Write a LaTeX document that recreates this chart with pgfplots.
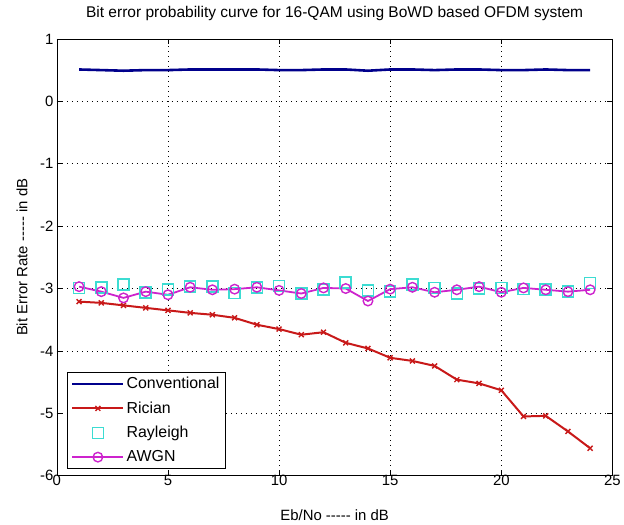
\documentclass[border=0pt]{standalone}
\usepackage{fontspec}
\setmainfont{Liberation Sans}[Ligatures=TeXOff]
\usepackage{pgfplots}
\pgfplotsset{compat=1.18}
\definecolor{conv}{RGB}{0,0,140}
\definecolor{ric}{RGB}{200,25,25}
\definecolor{ray}{RGB}{60,220,210}
\definecolor{awgn}{RGB}{205,35,205}
\pgfplotsset{myleg/.style={legend image code/.code={\draw[mark repeat=2,mark phase=2,##1] plot coordinates {(0bp,0bp) (25.5bp,0bp) (51bp,0bp)};}}}
\begin{document}
\begin{tikzpicture}
\begin{axis}[
  scale only axis, width=557bp, height=438bp,
  xmin=0, xmax=25, ymin=-6, ymax=1,
  xtick={0,5,10,15,20,25}, ytick={-6,-5,-4,-3,-2,-1,0,1},
  grid=major,
  grid style={black, dash pattern=on 1bp off 4bp, line width=0.7bp},
  tick align=inside, major tick length=5bp,
  every tick/.style={black, line width=0.7bp},
  axis line style={black, line width=0.7bp},
  tick label style={font=\fontsize{15}{17}\selectfont},
  xticklabel style={yshift=4bp},
  /pgf/number format/assume math mode=true,
  title={Bit error probability curve for 16-QAM using BoWD based OFDM system},
  title style={font=\fontsize{15.6}{17}\selectfont, at={(axis description cs:0.5,1)}, anchor=center, yshift=19bp},
  xlabel={Eb/No ----- in dB},
  xlabel style={font=\fontsize{15}{17}\selectfont, at={(axis description cs:0.5,0)}, anchor=center, yshift=-40bp},
  ylabel={Bit Error Rate ----- in dB},
  ylabel style={font=\fontsize{15}{17}\selectfont, at={(axis description cs:0,0.5)}, anchor=center, yshift=35bp},
  legend cell align=left,
  legend style={at={(0,0)}, anchor=south west, xshift=10bp, yshift=7bp,
    font=\fontsize{16}{18}\selectfont, draw=black, line width=0.7bp,
    inner xsep=4bp, inner ysep=3bp, row sep=7.5bp,
    nodes={inner sep=2bp}},
]
\addplot[myleg, conv, line width=2.6bp, no marks] coordinates {
(1,0.51)(2,0.50)(3,0.49)(4,0.50)(5,0.50)(6,0.51)(7,0.51)(8,0.51)(9,0.51)(10,0.50)(11,0.50)(12,0.51)
(13,0.51)(14,0.49)(15,0.51)(16,0.51)(17,0.50)(18,0.51)(19,0.51)(20,0.50)(21,0.50)(22,0.51)(23,0.50)(24,0.50)};
\addlegendentry{Conventional}
\addplot[myleg, ric, line width=2bp, mark=x, mark size=3.5bp, mark options={solid, line width=1.4bp}] coordinates {
(1,-3.21)(2,-3.23)(3,-3.27)(4,-3.31)(5,-3.35)(6,-3.39)(7,-3.42)(8,-3.47)(9,-3.58)(10,-3.65)(11,-3.74)(12,-3.70)
(13,-3.87)(14,-3.96)(15,-4.11)(16,-4.16)(17,-4.24)(18,-4.46)(19,-4.52)(20,-4.63)(21,-5.05)(22,-5.04)(23,-5.29)(24,-5.56)};
\addlegendentry{Rician}
\addplot[myleg, ray, only marks, mark=square, mark size=5.5bp, mark options={line width=1.6bp}] coordinates {
(1,-2.99)(2,-2.98)(3,-2.94)(4,-3.06)(5,-3.02)(6,-2.97)(7,-2.97)(8,-3.07)(9,-2.98)(10,-2.96)(11,-3.08)(12,-3.02)
(13,-2.90)(14,-3.03)(15,-3.05)(16,-2.94)(17,-2.99)(18,-3.08)(19,-3.00)(20,-2.99)(21,-3.01)(22,-3.02)(23,-3.05)(24,-2.91)};
\addlegendentry{Rayleigh}
\addplot[myleg, awgn, line width=1.8bp, mark=o, mark size=4.8bp, mark options={line width=1.4bp}] coordinates {
(1,-2.97)(2,-3.05)(3,-3.15)(4,-3.05)(5,-3.10)(6,-2.98)(7,-3.02)(8,-3.01)(9,-2.98)(10,-3.03)(11,-3.08)(12,-2.99)
(13,-3.00)(14,-3.20)(15,-3.01)(16,-2.98)(17,-3.06)(18,-3.02)(19,-2.97)(20,-3.06)(21,-2.99)(22,-3.02)(23,-3.05)(24,-3.02)};
\addlegendentry{AWGN}
\end{axis}
\path ([shift={(-57bp,-48bp)}]current axis.south west) rectangle ([shift={(10bp,39bp)}]current axis.north east);
\end{tikzpicture}
\end{document}
